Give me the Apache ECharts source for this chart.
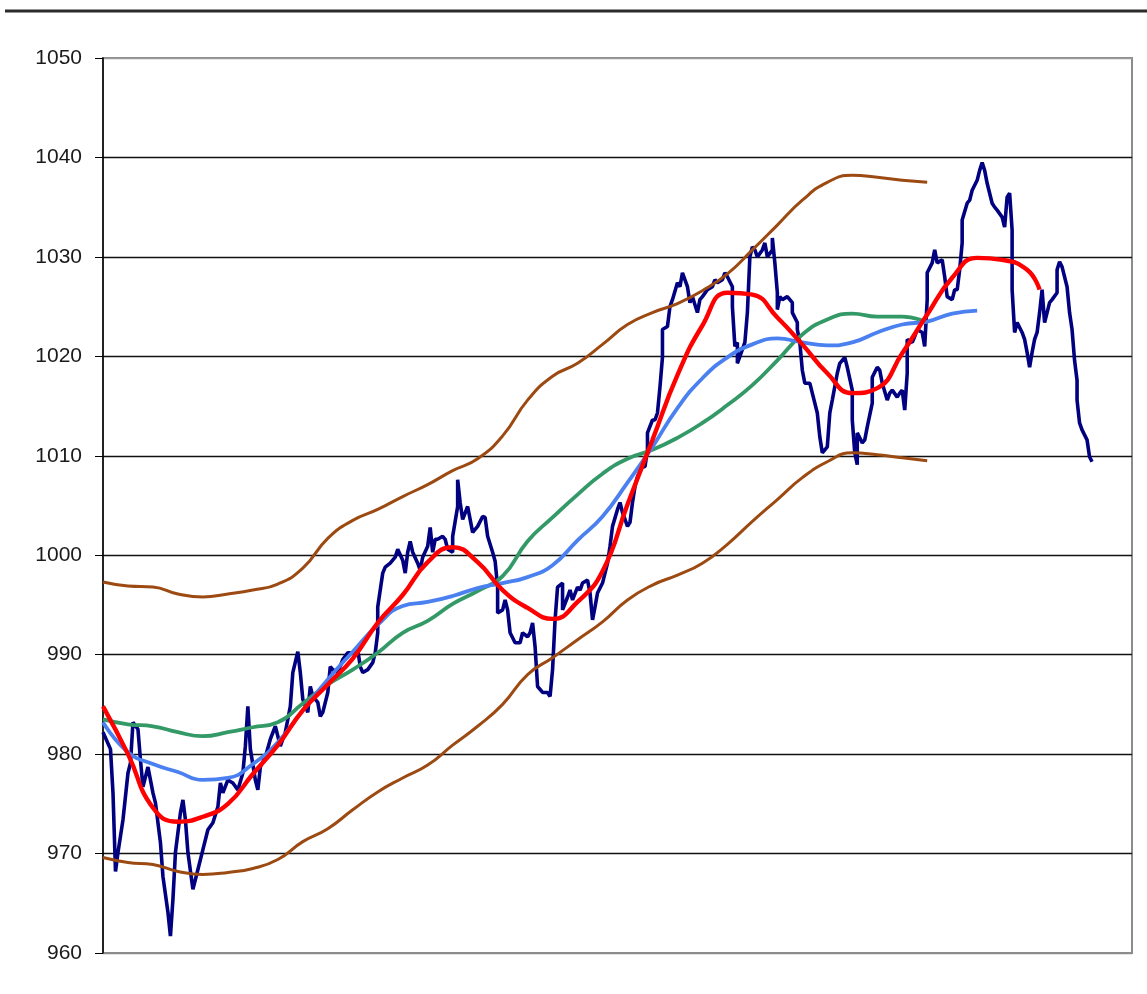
<!DOCTYPE html>
<html>
<head>
<meta charset="utf-8">
<script src="https://cdn.jsdelivr.net/npm/echarts@6/dist/echarts.min.js"></script>
<style>
html, body { margin: 0; padding: 0; background: #fff; }
#chart { width: 1147px; height: 994px; }
</style>
</head>
<body>
<div id="chart"></div>
<script>
// y axis ticks
var yTicks = [960, 970, 980, 990, 1000, 1010, 1020, 1030, 1040, 1050];

// daily closes (day index, value)
var priceDay = [0,3,4,5,6,8,10,11,12,14,15,16,18,20,21,23,24,26,27,28,29,31,32,33,34,36,38,40,42,44,46,47,48,50,52,54,56,57,58,59,61,62,63,65,67,69,71,73,75,76,78,79,80,82,83,84,86,87,88,90,91,92,94,96,98,100,102,103,104,106,108,109,110,110,112,113,115,117,118,120,121,122,123,124,126,127,128,130,131,132,133,134,136,137,138,140,140,142,142,143,144,146,147,148,150,152,153,154,156,157,158,158,160,161,162,163,165,167,168,170,171,172,173,174,176,178,179,180,181,182,184,184,186,187,188,190,191,192,194,195,196,197,198,200,201,202,203,204,206,207,208,210,211,212,213,214,216,217,218,218,220,221,222,223,224,224,226,227,228,230,231,232,234,235,236,238,239,240,242,244,245,246,248,249,250,252,252,253,254,254,256,257,258,259,260,261,262,264,265,266,268,268,269,270,270,271,272,274,276,276,278,278,279,280,281,283,284,286,287,288,290,291,292,294,295,297,298,300,300,301,302,302,304,305,306,308,308,310,311,312,314,315,316,318,319,320,321,322,322,324,325,326,328,329,330,330,332,333,334,336,337,338,340,341,342,343,344,344,346,347,348,350,351,352,353,354,356,357,358,360,361,362,363,364,364,365,366,368,369,370,371,372,373,374,375,376,377,378,379,380,382,382,383,384,386,387,388,389,390,390,391,392,394,395,396];
var price = [982.2,980.5,976.1,968.2,970.1,973.4,978.1,979.1,983.2,982.5,979.4,976.7,978.7,976.1,975.1,971.1,967.7,964.1,961.7,965.4,970.1,974.1,975.4,973.4,970.1,966.4,968.4,970.4,972.4,973.1,974.7,977.1,976.1,977.4,977.1,976.4,978.1,980.8,984.8,980.5,977.4,976.4,978.7,979.7,981.5,982.8,980.8,982.2,984.8,988.2,990.3,988.2,985.5,984.2,986.8,985.8,985.2,983.8,984.2,986.2,988.8,988.5,988.2,989.5,990.2,990.2,990.5,988.8,988.2,988.5,989.2,990.2,992.2,994.8,998.2,998.8,999.2,999.8,1000.6,999.5,998.2,1000.3,1001.4,1000.3,999.2,998.5,999.8,1000.9,1002.8,1000.3,1001.6,1001.6,1001.9,1001.6,1000.6,1000.3,1001.9,1004.9,1007.6,1005.3,1003.6,1004.9,1003.6,1002.3,1002.9,1003.9,1003.8,1001.9,1000.3,999.4,996.8,994.2,994.5,995.5,994.5,992.2,991.2,991.2,992.2,991.8,992.2,993.2,990.8,986.8,986.2,986.2,985.8,988.5,993.5,996.8,997.2,994.5,995.8,996.5,995.5,996.8,996.5,997.2,997.5,996.2,993.5,994.8,996.2,997.2,998.2,999.2,1000.9,1002.9,1004.6,1005.3,1004.3,1002.9,1003.3,1005.3,1006.9,1007.9,1008.9,1008.9,1010.6,1012.3,1013.6,1013.6,1014.3,1016.9,1019.9,1022.7,1023.0,1025.0,1025.7,1027.4,1027.0,1028.4,1027.0,1025.4,1026.0,1024.4,1025.7,1026.0,1026.7,1027.0,1027.7,1027.4,1027.7,1028.4,1028.0,1027.0,1025.0,1021.0,1021.4,1019.3,1020.7,1021.4,1024.4,1030.0,1031.0,1030.7,1030.0,1030.7,1031.4,1030.0,1030.7,1031.9,1029.4,1026.4,1024.7,1026.0,1025.7,1026.0,1025.4,1024.4,1023.4,1022.7,1021.4,1018.6,1017.3,1017.3,1016.3,1014.3,1011.9,1010.3,1010.9,1014.3,1015.6,1018.3,1019.3,1019.9,1018.9,1016.6,1013.6,1010.3,1009.1,1012.3,1011.3,1011.6,1012.9,1015.3,1017.9,1018.9,1018.6,1017.3,1015.6,1016.3,1016.6,1015.9,1016.3,1016.6,1014.6,1018.3,1021.7,1021.4,1022.0,1022.7,1022.4,1021.0,1025.7,1028.4,1029.4,1030.7,1029.4,1029.7,1028.0,1026.0,1025.7,1026.7,1026.7,1028.7,1031.4,1033.7,1035.4,1035.7,1036.7,1037.7,1038.7,1039.5,1038.7,1037.4,1035.4,1035.0,1034.7,1034.0,1033.0,1036.0,1036.4,1032.7,1026.7,1022.4,1023.4,1022.4,1021.7,1020.4,1018.9,1020.4,1021.7,1022.4,1024.4,1026.7,1023.4,1024.4,1025.4,1025.7,1026.4,1028.7,1029.5,1029.0,1027.0,1024.4,1022.7,1019.6,1017.6,1015.6,1013.3,1012.6,1011.6,1009.9,1009.4];

// smoothed series share a 10-day grid
var maDays = [0,10,20,30,40,50,60,70,80,90,100,110,120,130,140,150,160,170,180,190,200,210,220,230,240,250,260,270,280,290,300,310,320,330,340,350,360,370,375];
var maRed = [984.8,980.0,974.6,973.2,973.7,975.0,978.0,980.9,984.4,987.0,989.6,993.2,996.0,999.3,1000.8,999.3,996.5,994.7,993.6,995.3,998.4,1005.1,1011.6,1018.1,1023.1,1026.4,1026.2,1023.9,1021.2,1018.3,1016.3,1016.8,1020.3,1024.2,1027.9,1029.9,1029.7,1028.7,1026.7];
var maBlue = [983.2,980.2,979.0,978.2,977.4,977.6,979.0,981.2,984.4,987.5,990.3,993.0,994.9,995.3,995.9,996.7,997.2,997.8,999.0,1001.5,1003.9,1007.3,1010.9,1014.8,1017.8,1019.9,1021.2,1021.8,1021.4,1021.1,1021.4,1022.4,1023.2,1023.5,1024.3,1024.6];
var maGreen = [983.5,983.0,982.8,982.2,981.8,982.2,982.7,983.2,985.1,987.0,988.5,990.2,992.2,993.4,995.1,996.4,997.9,1001.4,1003.8,1006.1,1008.2,1009.7,1010.6,1011.8,1013.3,1015.1,1017.1,1019.6,1022.2,1023.7,1024.3,1024.0,1024.0,1023.4];
var bandUpper = [997.3,996.9,996.8,996.1,995.8,996.1,996.5,997.1,998.7,1001.7,1003.5,1004.6,1005.9,1007.1,1008.5,1009.7,1012.0,1015.6,1018.0,1019.3,1021.2,1023.2,1024.4,1025.3,1026.6,1028.3,1030.7,1033.2,1035.7,1037.5,1038.2,1038.0,1037.7,1037.5];
var bandLower = [969.6,969.1,968.9,968.2,967.9,968.1,968.5,969.4,971.2,972.5,974.4,976.2,977.6,978.9,980.9,982.8,985.0,988.0,989.7,991.5,993.3,995.5,997.0,998.0,999.2,1001.1,1003.4,1005.6,1007.8,1009.4,1010.3,1010.1,1009.8,1009.5];

function pairs(days, vals) {
    return vals.map(function (v, i) { return [days[i], v]; });
}

function lineSeries(name, days, vals, color, width, smooth) {
    return {
        name: name,
        type: 'line',
        data: pairs(days, vals),
        showSymbol: false,
        smooth: smooth,
        lineStyle: { color: color, width: width },
        itemStyle: { color: color }
    };
}

var chart = echarts.init(document.getElementById('chart'));
chart.setOption({
    animation: false,
    backgroundColor: '#fff',
    grid: {
        left: 103, right: 15, top: 58, bottom: 41,
        show: true,
        borderColor: '#8c8c8c',
        borderWidth: 2
    },
    graphic: [{
        type: 'line',
        shape: { x1: 5, y1: 11, x2: 1147, y2: 11 },
        style: { stroke: '#2b2b2b', lineWidth: 3 }
    }],
    xAxis: {
        type: 'value',
        min: 0,
        max: 412,
        axisLine: { show: false },
        axisTick: { show: false },
        axisLabel: { show: false },
        splitLine: { show: false }
    },
    yAxis: {
        type: 'value',
        min: yTicks[0],
        max: yTicks[yTicks.length - 1],
        interval: 10,
        axisLine: { show: true, lineStyle: { color: '#000', width: 1.5 } },
        axisTick: { show: true, length: 8, lineStyle: { color: '#000' } },
        axisLabel: {
            margin: 21,
            color: '#1a1a1a',
            fontFamily: 'Liberation Sans, Arial, sans-serif',
            fontSize: 21,
            formatter: function (v) { return String(v); }
        },
        splitLine: {
            show: true,
            lineStyle: {
                color: ['#8c8c8c', '#111', '#111', '#111', '#111', '#111', '#111', '#111', '#111', '#9a9a9a'],
                width: 1.3
            }
        }
    },
    series: [
        lineSeries('price', priceDay, price, '#000080', 3.6, false),
        lineSeries('upper', maDays, bandUpper, '#9c4a12', 3, true),
        lineSeries('lower', maDays, bandLower, '#9c4a12', 3, true),
        lineSeries('ma long', maDays, maGreen, '#339966', 3.8, true),
        lineSeries('ma mid', maDays, maBlue, '#4a80f0', 3.8, true),
        lineSeries('ma short', maDays, maRed, '#ff0000', 4.4, true)
    ]
});
</script>
</body>
</html>
